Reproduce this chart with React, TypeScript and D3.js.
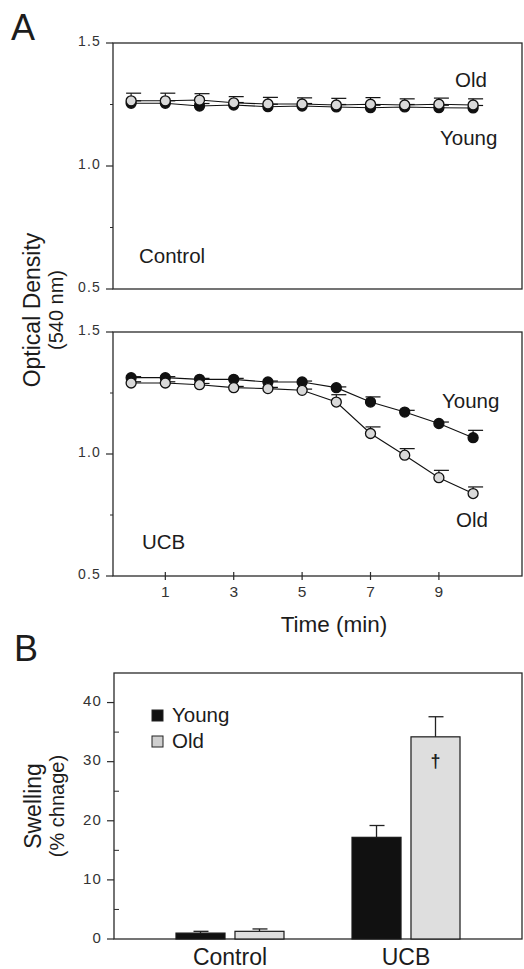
import React, { useEffect, useRef } from 'react';
import * as d3 from 'd3';

// Panel A: optical density over time
const times = [0, 1, 2, 3, 4, 5, 6, 7, 8, 9, 10];
const controlYoung = [1.255, 1.255, 1.244, 1.248, 1.241, 1.244, 1.24, 1.237, 1.24, 1.237, 1.236];
const controlYoungErr = [0.01, 0.01, 0.01, 0.01, 0.01, 0.01, 0.01, 0.01, 0.01, 0.01, 0.01];
const controlOld = [1.265, 1.265, 1.268, 1.257, 1.252, 1.252, 1.248, 1.251, 1.248, 1.251, 1.248];
const controlOldErr = [0.031, 0.031, 0.026, 0.025, 0.027, 0.025, 0.027, 0.027, 0.025, 0.025, 0.025];
const ucbYoung = [1.313, 1.313, 1.306, 1.306, 1.295, 1.295, 1.272, 1.213, 1.172, 1.125, 1.067];
const ucbYoungErr = [0.004, 0.004, 0.004, 0.004, 0.004, 0.004, 0.003, 0.021, 0.007, 0.006, 0.03];
const ucbOld = [1.291, 1.291, 1.284, 1.272, 1.268, 1.261, 1.213, 1.084, 0.995, 0.903, 0.838];
const ucbOldErr = [0.005, 0.005, 0.005, 0.005, 0.005, 0.005, 0.03, 0.027, 0.027, 0.03, 0.027];
const odTicks = [0.5, 1.0, 1.5];
const odMinor = [0.75, 1.25];
const timeTicks = [1, 3, 5, 7, 9];

// Panel B: swelling
const groups = ['Control', 'UCB'];
const series = ['Young', 'Old'];
const swellYoung = [1.0, 17.2];
const swellYoungErr = [0.3, 2.0];
const swellOld = [1.3, 34.2];
const swellOldErr = [0.4, 3.4];
const swellTicks = [0, 10, 20, 30, 40];
const swellMinor = [5, 15, 25, 35];

const FONT = '"Liberation Sans", Arial, Helvetica, sans-serif';
const INK = '#1c1c1c';
const OLD_FILL = '#d9d9d9';

const App = () => {
  const ref = useRef<SVGSVGElement>(null);

  useEffect(() => {
    const svg = d3.select(ref.current);
    svg.selectAll('*').remove();
    svg.style('font-family', FONT);

    const x = d3.scaleLinear().domain([-0.53, 11.43]).range([113, 522]);

    const drawOdPanel = (y0: number, y1: number, young: number[], youngErr: number[], old: number[], oldErr: number[], showTimeAxis: boolean) => {
      const y = d3.scaleLinear().domain([0.5, 1.5]).range([y0, y1]);
      const g = svg.append('g');

      // frame
      g.append('rect')
        .attr('x', x.range()[0]).attr('y', y1)
        .attr('width', x.range()[1] - x.range()[0]).attr('height', y0 - y1)
        .attr('fill', 'none').attr('stroke', '#2a2a2a').attr('stroke-width', 1.3);

      // y ticks
      g.selectAll('.maj').data(odTicks).enter().append('line')
        .attr('x1', 106).attr('x2', 113)
        .attr('y1', d => y(d)).attr('y2', d => y(d))
        .attr('stroke', '#2a2a2a').attr('stroke-width', 1.2);
      g.selectAll('.min').data(odMinor).enter().append('line')
        .attr('x1', 110).attr('x2', 113)
        .attr('y1', d => y(d)).attr('y2', d => y(d))
        .attr('stroke', '#2a2a2a').attr('stroke-width', 1);
      g.selectAll('.lab').data(odTicks).enter().append('text')
        .attr('x', 101).attr('y', d => y(d) - 1.5)
        .attr('dy', '0.35em')
        .attr('text-anchor', 'end')
        .attr('font-size', 14).attr('letter-spacing', 1.2)
        .attr('fill', '#333')
        .text(d => d.toFixed(1));

      if (showTimeAxis) {
        g.selectAll('.xt').data(timeTicks).enter().append('line')
          .attr('x1', d => x(d)).attr('x2', d => x(d))
          .attr('y1', y0 - 4).attr('y2', y0 + 4)
          .attr('stroke', '#2a2a2a').attr('stroke-width', 1.2);
        g.selectAll('.xl').data(timeTicks).enter().append('text')
          .attr('x', d => x(d)).attr('y', y0 + 21)
          .attr('text-anchor', 'middle')
          .attr('font-size', 15.5).attr('fill', '#333')
          .text(d => d);
      }

      const line = d3.line<number>().x((_, i) => x(times[i])).y(d => y(d));
      const drawSeries = (vals: number[], errs: number[]) => {
        g.append('path').datum(vals)
          .attr('d', line).attr('fill', 'none')
          .attr('stroke', '#111').attr('stroke-width', 1.1);
        g.selectAll(null).data(vals).enter().append('line')
          .attr('x1', (_, i) => x(times[i])).attr('x2', (_, i) => x(times[i]))
          .attr('y1', d => y(d)).attr('y2', (d, i) => y(d + errs[i]))
          .attr('stroke', '#111').attr('stroke-width', 1.1);
        g.selectAll(null).data(vals).enter().append('line')
          .attr('x1', (_, i) => x(times[i]) - 5).attr('x2', (_, i) => x(times[i]) + 10)
          .attr('y1', (d, i) => y(d + errs[i])).attr('y2', (d, i) => y(d + errs[i]))
          .attr('stroke', '#111').attr('stroke-width', 1.2);
      };
      const drawDots = (vals: number[], fill: string) => {
        g.selectAll(null).data(vals).enter().append('circle')
          .attr('cx', (_, i) => x(times[i])).attr('cy', d => y(d))
          .attr('r', 5)
          .attr('fill', fill).attr('stroke', '#111').attr('stroke-width', 1.3);
      };
      drawSeries(young, youngErr);
      drawSeries(old, oldErr);
      drawDots(young, '#111');
      drawDots(old, OLD_FILL);
      return g;
    };

    const top = drawOdPanel(289, 43, controlYoung, controlYoungErr, controlOld, controlOldErr, false);
    const bottom = drawOdPanel(576, 332, ucbYoung, ucbYoungErr, ucbOld, ucbOldErr, true);

    const label = (g: any, t: string, px: number, py: number, size: number) =>
      g.append('text').attr('x', px).attr('y', py)
        .attr('font-size', size).attr('fill', INK).text(t);

    label(top, 'Old', 455, 87, 20.5);
    label(top, 'Young', 440, 145, 20.5);
    label(top, 'Control', 139, 263, 20.5);
    label(bottom, 'Young', 442, 408, 20.5);
    label(bottom, 'Old', 456, 527, 20.5);
    label(bottom, 'UCB', 142, 549, 20.5);

    svg.append('text').attr('x', 334).attr('y', 632)
      .attr('text-anchor', 'middle').attr('font-size', 22.5).attr('fill', INK)
      .text('Time (min)');

    const ylab = svg.append('g').attr('transform', 'translate(0,310) rotate(-90)');
    ylab.append('text').attr('x', 0).attr('y', 40)
      .attr('text-anchor', 'middle').attr('font-size', 23).attr('fill', INK)
      .text('Optical Density');
    ylab.append('text').attr('x', 0).attr('y', 63)
      .attr('text-anchor', 'middle').attr('font-size', 20).attr('fill', INK)
      .text('(540 nm)');

    svg.append('text').attr('x', 11).attr('y', 39.5)
      .attr('font-size', 36).attr('fill', INK).text('A');
    svg.append('text').attr('x', 14).attr('y', 661)
      .attr('font-size', 36).attr('fill', INK).text('B');

    // Panel B
    const yB = d3.scaleLinear().domain([0, 45]).range([939, 673]);
    const xB = d3.scalePoint<string>().domain(groups).range([114, 522]).padding(0.659);
    const xS = d3.scaleBand<string>().domain(series).range([-54, 54]).paddingInner(0.169);
    const gB = svg.append('g');

    gB.append('rect')
      .attr('x', 114).attr('y', yB(45))
      .attr('width', 522 - 114).attr('height', yB(0) - yB(45))
      .attr('fill', 'none').attr('stroke', '#2a2a2a').attr('stroke-width', 1.3);
    gB.selectAll('.maj').data(swellTicks).enter().append('line')
      .attr('x1', 107).attr('x2', 114)
      .attr('y1', d => yB(d)).attr('y2', d => yB(d))
      .attr('stroke', '#2a2a2a').attr('stroke-width', 1.2);
    gB.selectAll('.min').data(swellMinor).enter().append('line')
      .attr('x1', 114).attr('x2', 119)
      .attr('y1', d => yB(d)).attr('y2', d => yB(d))
      .attr('stroke', '#2a2a2a').attr('stroke-width', 1);
    gB.selectAll('.lab').data(swellTicks).enter().append('text')
      .attr('x', 102).attr('y', d => yB(d) - 1.5)
      .attr('dy', '0.35em').attr('text-anchor', 'end')
      .attr('font-size', 15).attr('letter-spacing', 1.2).attr('fill', '#333')
      .text(d => d);

    const barData = groups.flatMap((grp, i) => [
      { grp, s: 'Young', v: swellYoung[i], e: swellYoungErr[i], fill: '#111' },
      { grp, s: 'Old', v: swellOld[i], e: swellOldErr[i], fill: '#dedede' },
    ]);
    const bx = (d: any) => (xB(d.grp) as number) + (xS(d.s) as number);
    const bw = xS.bandwidth();

    gB.selectAll('.eb').data(barData).enter().append('line')
      .attr('x1', d => bx(d) + bw / 2).attr('x2', d => bx(d) + bw / 2)
      .attr('y1', d => yB(d.v)).attr('y2', d => yB(d.v + d.e))
      .attr('stroke', '#222').attr('stroke-width', 1.3);
    gB.selectAll('.ec').data(barData).enter().append('line')
      .attr('x1', d => bx(d) + bw / 2 - 7).attr('x2', d => bx(d) + bw / 2 + 8)
      .attr('y1', d => yB(d.v + d.e)).attr('y2', d => yB(d.v + d.e))
      .attr('stroke', '#222').attr('stroke-width', 1.3);
    gB.selectAll('.bar').data(barData).enter().append('rect')
      .attr('x', d => bx(d)).attr('y', d => yB(d.v))
      .attr('width', bw).attr('height', d => yB(0) - yB(d.v))
      .attr('fill', d => d.fill).attr('stroke', '#1a1a1a').attr('stroke-width', 1.2);

    gB.append('text')
      .attr('x', bx(barData[3]) + bw / 2).attr('y', 767)
      .attr('text-anchor', 'middle').attr('font-size', 18).attr('font-weight', 'bold')
      .attr('fill', INK).text('†');

    gB.selectAll('.cat').data(groups).enter().append('text')
      .attr('x', d => xB(d) as number).attr('y', 965)
      .attr('text-anchor', 'middle').attr('font-size', 23).attr('fill', INK)
      .text(d => d);

    // legend
    const legend = [
      { s: 'Young', fill: '#111' },
      { s: 'Old', fill: '#cfcfcf' },
    ];
    const lg = gB.selectAll('.lg').data(legend).enter().append('g')
      .attr('transform', (_, i) => `translate(152,${710 + i * 26})`);
    lg.append('rect').attr('width', 11).attr('height', 11)
      .attr('fill', d => d.fill).attr('stroke', '#222').attr('stroke-width', 1);
    lg.append('text').attr('x', 20).attr('y', 12)
      .attr('font-size', 20.5).attr('fill', INK).text(d => d.s);

    const ylabB = svg.append('g').attr('transform', 'translate(0,806) rotate(-90)');
    ylabB.append('text').attr('x', 0).attr('y', 41)
      .attr('text-anchor', 'middle').attr('font-size', 23).attr('fill', INK)
      .text('Swelling');
    ylabB.append('text').attr('x', 0).attr('y', 64)
      .attr('text-anchor', 'middle').attr('font-size', 20).attr('fill', INK)
      .text('(% chnage)');
  }, []);

  return (
    <svg ref={ref} width={524} height={969}
      style={{ position: 'absolute', left: 0, top: 0, background: '#fff' }} />
  );
};

export default App;
